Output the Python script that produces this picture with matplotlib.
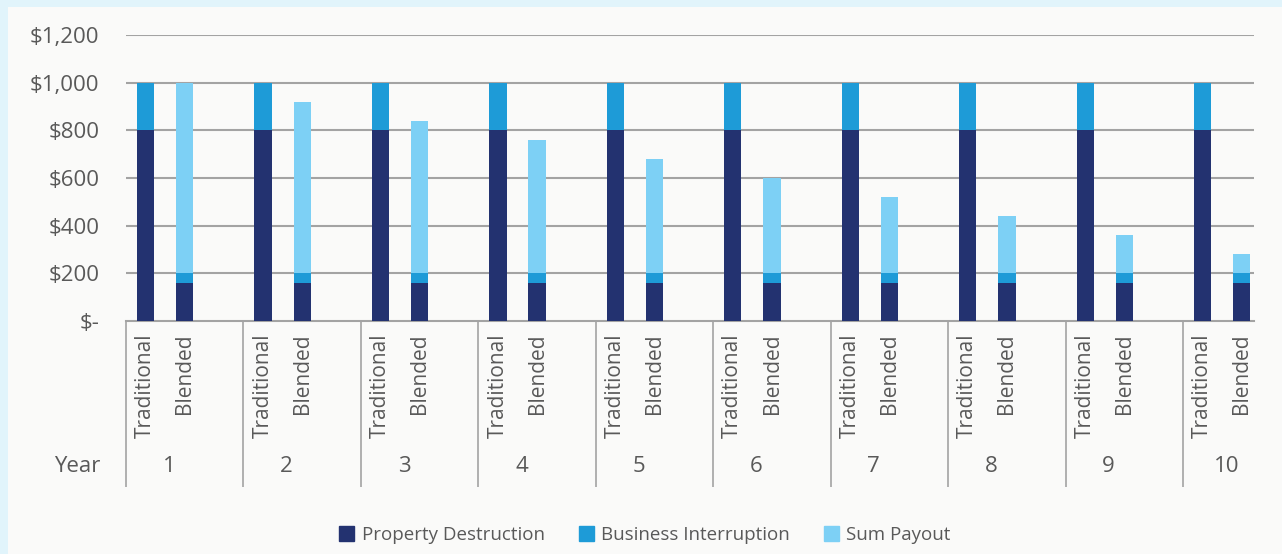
import matplotlib
matplotlib.use("Agg")
import matplotlib.pyplot as plt
from matplotlib.patches import Rectangle, Patch

plt.rcParams['font.family'] = ['Open Sans', 'DejaVu Sans']

# data
years = ["1", "2", "3", "4", "5", "6", "7", "8", "9", "10"]
trad_property = [800] * 10
trad_business = [200] * 10
blend_property = [160] * 10
blend_business = [40] * 10
blend_payout = [800, 720, 640, 560, 480, 400, 320, 240, 160, 80]
bar_names = ["Traditional", "Blended"]
y_ticks = [0, 200, 400, 600, 800, 1000, 1200]
y_labels = ["$-", "$200", "$400", "$600", "$800", "$1,000", "$1,200"]

c_prop = "#233270"
c_bi = "#1e9bd7"
c_pay = "#7dd0f5"
txt = "#595959"
grid = "#a3a3a3"

fig = plt.figure(figsize=(12.82, 5.54), dpi=100, facecolor="#e1f4fb")
# inner panel
fig.patches.append(Rectangle((8/1282, 0), 1, (554-7)/554, transform=fig.transFigure,
                             facecolor="#fafaf9", edgecolor="none", zorder=-5))

ax = fig.add_axes([126/1282, 233/554, (1254-126)/1282, 286/554])
ax.set_facecolor("none")

n = len(years)
xt = [3*i for i in range(n)]
xb = [3*i + 1 for i in range(n)]
w = 0.44

ax.bar(xt, trad_property, w, color=c_prop, zorder=3)
ax.bar(xt, trad_business, w, bottom=trad_property, color=c_bi, zorder=3)
ax.bar(xb, blend_property, w, color=c_prop, zorder=3)
ax.bar(xb, blend_business, w, bottom=blend_property, color=c_bi, zorder=3)
bottoms = [a + b for a, b in zip(blend_property, blend_business)]
ax.bar(xb, blend_payout, w, bottom=bottoms, color=c_pay, zorder=3)

# last group is cut off just after its Blended bar
ax.set_xlim(-0.5, 3*n - 1.69)
ax.set_ylim(0, 1200)

ax.set_yticks(y_ticks)
ax.set_yticklabels(y_labels)
ax.tick_params(axis='y', length=0, pad=19, labelsize=16, labelcolor=txt)
for v in y_ticks[1:]:
    ax.axhline(v, color=grid, lw=1.5, zorder=1)

ticks = []
labels = []
for i in range(n):
    ticks += [xt[i], xb[i]]
    labels += bar_names
ax.set_xticks(ticks)
ax.set_xticklabels(labels, rotation=90, va='top', ha='center')
ax.tick_params(axis='x', which='major', length=0, pad=9, labelsize=15, labelcolor=txt)
ax.set_xticks([3*i - 0.5 for i in range(n)], minor=True)
ax.tick_params(axis='x', which='minor', length=119.5, width=1.2, color=grid, direction='out')

for s in ["top", "right", "left"]:
    ax.spines[s].set_visible(False)
ax.spines["bottom"].set_color(grid)
ax.spines["bottom"].set_linewidth(1.5)

for i, y in enumerate(years):
    ax.text(3*i + 0.6, -0.51, y, transform=ax.get_xaxis_transform(),
            ha='center', va='center', fontsize=16, color=txt)
fig.text(100/1282, (554-467)/554, "Year", ha='right', va='center', fontsize=16, color=txt)

handles = [Patch(color=c_prop, label="Property Destruction"),
           Patch(color=c_bi, label="Business Interruption"),
           Patch(color=c_pay, label="Sum Payout")]
leg = fig.legend(handles=handles, loc='center', bbox_to_anchor=(645/1282, (554-535)/554),
                 ncol=3, frameon=False, fontsize=13.5, handlelength=0.8, handleheight=0.8,
                 handletextpad=0.4, columnspacing=1.8)
for t in leg.get_texts():
    t.set_color(txt)

plt.savefig("out.png", dpi=100, facecolor=fig.get_facecolor())
